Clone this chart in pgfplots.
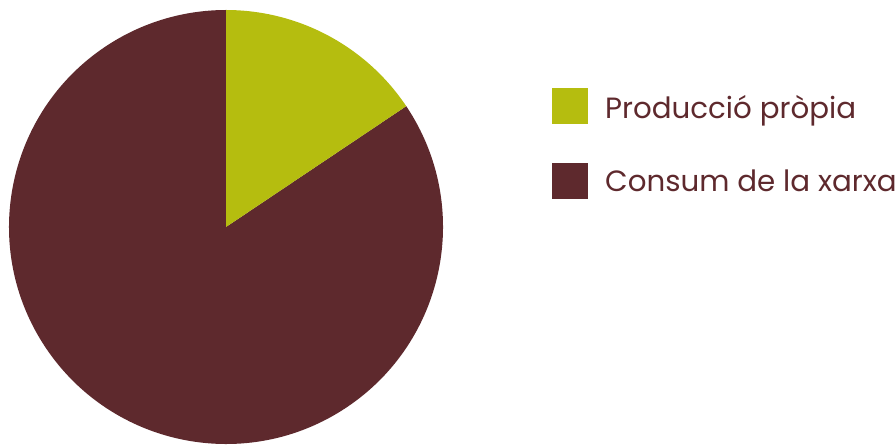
\documentclass[border=0pt]{standalone}
\usepackage{pgfplots}
\pgfplotsset{compat=1.18}
\usepackage{pgfplotstable}
\usepackage{fontspec}
\setmainfont{Poppins}
\definecolor{pgreen}{HTML}{B5BD0F}
\definecolor{pbrown}{HTML}{5E292D}
\pgfplotstableread[col sep=comma]{
label,value
Producció pròpia,15.6
Consum de la xarxa,84.4
}\piedata
\begin{document}
\begin{tikzpicture}
\pgfplotstablegetelem{0}{value}\of\piedata \let\va\pgfplotsretval
\pgfplotstablegetelem{1}{value}\of\piedata \let\vb\pgfplotsretval
\pgfplotstablegetelem{0}{label}\of\piedata \let\la\pgfplotsretval
\pgfplotstablegetelem{1}{label}\of\piedata \let\lb\pgfplotsretval
\pgfmathsetmacro{\aend}{90-3.6*\va}
\pgfmathsetmacro{\bend}{\aend-3.6*\vb}
\begin{axis}[x=1pt,y=1pt,xmin=0,xmax=896,ymin=0,ymax=444,
  scale only axis, hide axis, clip=false, anchor=origin, at={(0pt,0pt)}]
\fill[pbrown] (axis cs:226,217) -- ++(\aend:217pt) arc[start angle=\aend, end angle=\bend, radius=217pt] -- cycle;
\fill[pgreen] (axis cs:226,217) -- ++(90:217pt) arc[start angle=90, end angle=\aend, radius=217pt] -- cycle;
\fill[pgreen] (axis cs:552,320) rectangle (axis cs:588,356);
\fill[pbrown] (axis cs:552,245) rectangle (axis cs:588,281);
\node[anchor=base west, inner sep=0pt, text=pbrown, font=\fontsize{29.3}{35}\selectfont] at (axis cs:605,325) {\la};
\node[anchor=base west, inner sep=0pt, text=pbrown, font=\fontsize{29.3}{35}\selectfont] at (axis cs:605,252) {\lb};
\end{axis}
\pgfresetboundingbox
\path[use as bounding box] (0pt,0pt) rectangle (896pt,444pt);
\end{tikzpicture}
\end{document}
